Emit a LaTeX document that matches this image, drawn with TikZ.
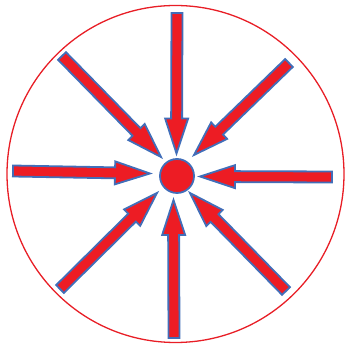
\documentclass[tikz,border=0pt]{standalone}
\usetikzlibrary{calc}
\definecolor{arrred}{RGB}{237,28,36}
\definecolor{arrblue}{RGB}{65,110,185}
\definecolor{ringred}{RGB}{232,30,38}
\tikzset{
  fatarrow/.style={fill=arrred, draw=arrblue, line width=1.8pt, line join=miter},
  hub/.style={circle, fill=arrred, draw=arrblue, line width=1.8pt, minimum size=34pt, inner sep=0pt},
  ring/.style={draw=ringred, line width=1.3pt}
}
\newcommand\fatarr[3]{% #1 name, #2 start, #3 tip
  \coordinate (#1s) at (#2);
  \coordinate (#1t) at (#3);
  \coordinate (#1b) at ($(#1t)!35pt!(#1s)$);
  \path[fatarrow]
    ($(#1s)!5.5pt!90:(#1t)$) --
    ($(#1b)!5.5pt!90:(#1t)$) --
    ($(#1b)!11.5pt!90:(#1t)$) --
    (#1t) --
    ($(#1b)!11.5pt!-90:(#1t)$) --
    ($(#1b)!5.5pt!-90:(#1t)$) --
    ($(#1s)!5.5pt!-90:(#1t)$) -- cycle;
}
\begin{document}
\begin{tikzpicture}[x=1pt,y=-1pt]
\useasboundingbox (0,0) rectangle (349,347);
\coordinate (o) at (175.5,174);
\draw[ring] (o) circle[radius=168.5pt];
\fatarr{n}{177,13}{176.5,153.5}
\fatarr{s}{174,338}{173.5,200}
\fatarr{w}{13,171}{150,173.5}
\fatarr{e}{332,177}{200,176.5}
\fatarr{nw}{62,56}{161,157}
\fatarr{ne}{289,63}{194,155}
\fatarr{sw}{60,289}{157,193}
\fatarr{se}{286,291}{190,193}
\node[hub] (c) at (177,176) {};
\end{tikzpicture}
\end{document}
